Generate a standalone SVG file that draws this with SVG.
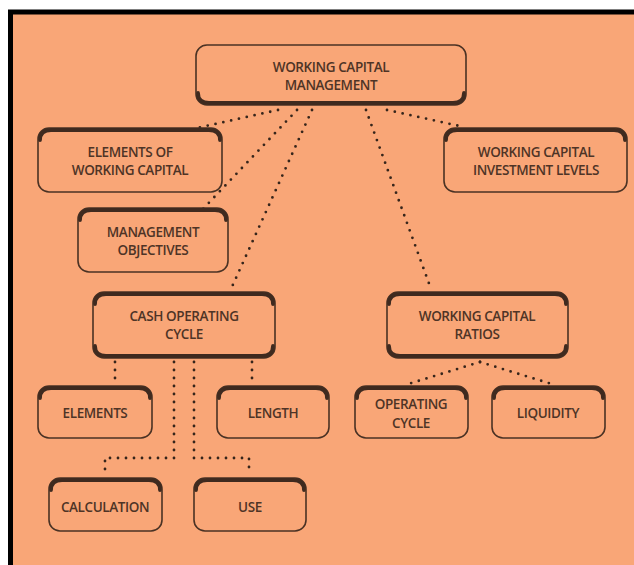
<svg xmlns="http://www.w3.org/2000/svg" width="634" height="565" viewBox="0 0 634 565">
<style>
.box{fill:#F9A677;stroke:#4a3224;stroke-width:1.6}
.thick{fill:none;stroke:#3f2a1f;stroke-width:3.8;stroke-linecap:round}
.t{font-family:"Open Sans","Noto Sans",sans-serif;font-size:13.5px;font-weight:600;letter-spacing:-0.4px;fill:#4e3426;text-anchor:middle}
.dot{fill:none;stroke:#36251b;stroke-width:2.8;stroke-linecap:round;stroke-dasharray:0 8}
</style>
<rect x="0" y="0" width="634" height="565" fill="#ffffff"/>
<rect x="8" y="10" width="626" height="555" fill="#F9A677"/>
<path d="M10.5,565 V12 H634" fill="none" stroke="#000" stroke-width="5"/>
<g id="connectors">
<path class="dot" d="M278,110 L197,128"/>
<path class="dot" d="M297,110 L203,209"/>
<path class="dot" d="M312,110 L231,289"/>
<path class="dot" d="M366,110 L431,289"/>
<path class="dot" d="M387,110 L464,127"/>
<path class="dot" d="M115,362 V384"/>
<path class="dot" d="M252,362 V384"/>
<path class="dot" d="M174,362 V458 H105 V474"/>
<path class="dot" d="M194,362 V458 H249 V474"/>
<path class="dot" d="M480,362 L405,385"/>
<path class="dot" d="M480,362 L555,385"/>
</g>
<g id="n-main">
<rect class="box" x="196" y="45" width="270" height="60" rx="11"/>
<path class="thick" d="M198,93 Q198,103 209,103 H453 Q464,103 464,93"/>
<text class="t" x="331" y="72">WORKING CAPITAL</text>
<text class="t" x="331" y="90">MANAGEMENT</text>
</g>
<g id="n-elements-wc">
<rect class="box" x="38" y="128" width="184" height="64" rx="11"/>
<path class="thick" d="M40,140 Q40,130 51,130 H209 Q220,130 220,140"/>
<text class="t" x="130" y="157">ELEMENTS OF</text>
<text class="t" x="130" y="175">WORKING CAPITAL</text>
</g>
<g id="n-investment">
<rect class="box" x="444" y="128" width="183" height="64" rx="11"/>
<path class="thick" d="M446,140 Q446,130 457,130 H614 Q625,130 625,140"/>
<text class="t" x="536" y="157">WORKING CAPITAL</text>
<text class="t" x="536" y="175">INVESTMENT LEVELS</text>
</g>
<g id="n-objectives">
<rect class="box" x="78" y="208" width="150" height="64" rx="11"/>
<path class="thick" d="M80,220 Q80,210 91,210 H215 Q226,210 226,220"/>
<text class="t" x="153" y="237">MANAGEMENT</text>
<text class="t" x="153" y="255">OBJECTIVES</text>
</g>
<g id="n-cash">
<rect class="box" x="93" y="292" width="182" height="66" rx="11"/>
<path class="thick" d="M95,304 Q95,294 106,294 H262 Q273,294 273,304"/>
<path class="thick" d="M95,346 Q95,356 106,356 H262 Q273,356 273,346"/>
<text class="t" x="184" y="321">CASH OPERATING</text>
<text class="t" x="184" y="339">CYCLE</text>
</g>
<g id="n-ratios">
<rect class="box" x="387" y="292" width="181" height="66" rx="11"/>
<path class="thick" d="M389,304 Q389,294 400,294 H555 Q566,294 566,304"/>
<path class="thick" d="M389,346 Q389,356 400,356 H555 Q566,356 566,346"/>
<text class="t" x="477" y="321">WORKING CAPITAL</text>
<text class="t" x="477" y="339">RATIOS</text>
</g>
<g id="n-elements">
<rect class="box" x="38" y="386" width="114" height="52" rx="11"/>
<path class="thick" d="M40,398 Q40,388 51,388 H139 Q150,388 150,398"/>
<text class="t" x="95" y="418">ELEMENTS</text>
</g>
<g id="n-length">
<rect class="box" x="217" y="386" width="112" height="52" rx="11"/>
<path class="thick" d="M219,398 Q219,388 230,388 H316 Q327,388 327,398"/>
<text class="t" x="273" y="418">LENGTH</text>
</g>
<g id="n-opcycle">
<rect class="box" x="355" y="386" width="113" height="52" rx="11"/>
<path class="thick" d="M357,398 Q357,388 368,388 H455 Q466,388 466,398"/>
<text class="t" x="411" y="409">OPERATING</text>
<text class="t" x="411" y="428">CYCLE</text>
</g>
<g id="n-liquidity">
<rect class="box" x="492" y="386" width="113" height="52" rx="11"/>
<path class="thick" d="M494,398 Q494,388 505,388 H592 Q603,388 603,398"/>
<text class="t" x="548" y="418">LIQUIDITY</text>
</g>
<g id="n-calculation">
<rect class="box" x="49" y="478" width="113" height="53" rx="11"/>
<path class="thick" d="M51,490 Q51,480 62,480 H149 Q160,480 160,490"/>
<text class="t" x="105" y="512">CALCULATION</text>
</g>
<g id="n-use">
<rect class="box" x="194" y="478" width="112" height="53" rx="11"/>
<path class="thick" d="M196,490 Q196,480 207,480 H293 Q304,480 304,490"/>
<text class="t" x="250" y="512">USE</text>
</g>
</svg>
